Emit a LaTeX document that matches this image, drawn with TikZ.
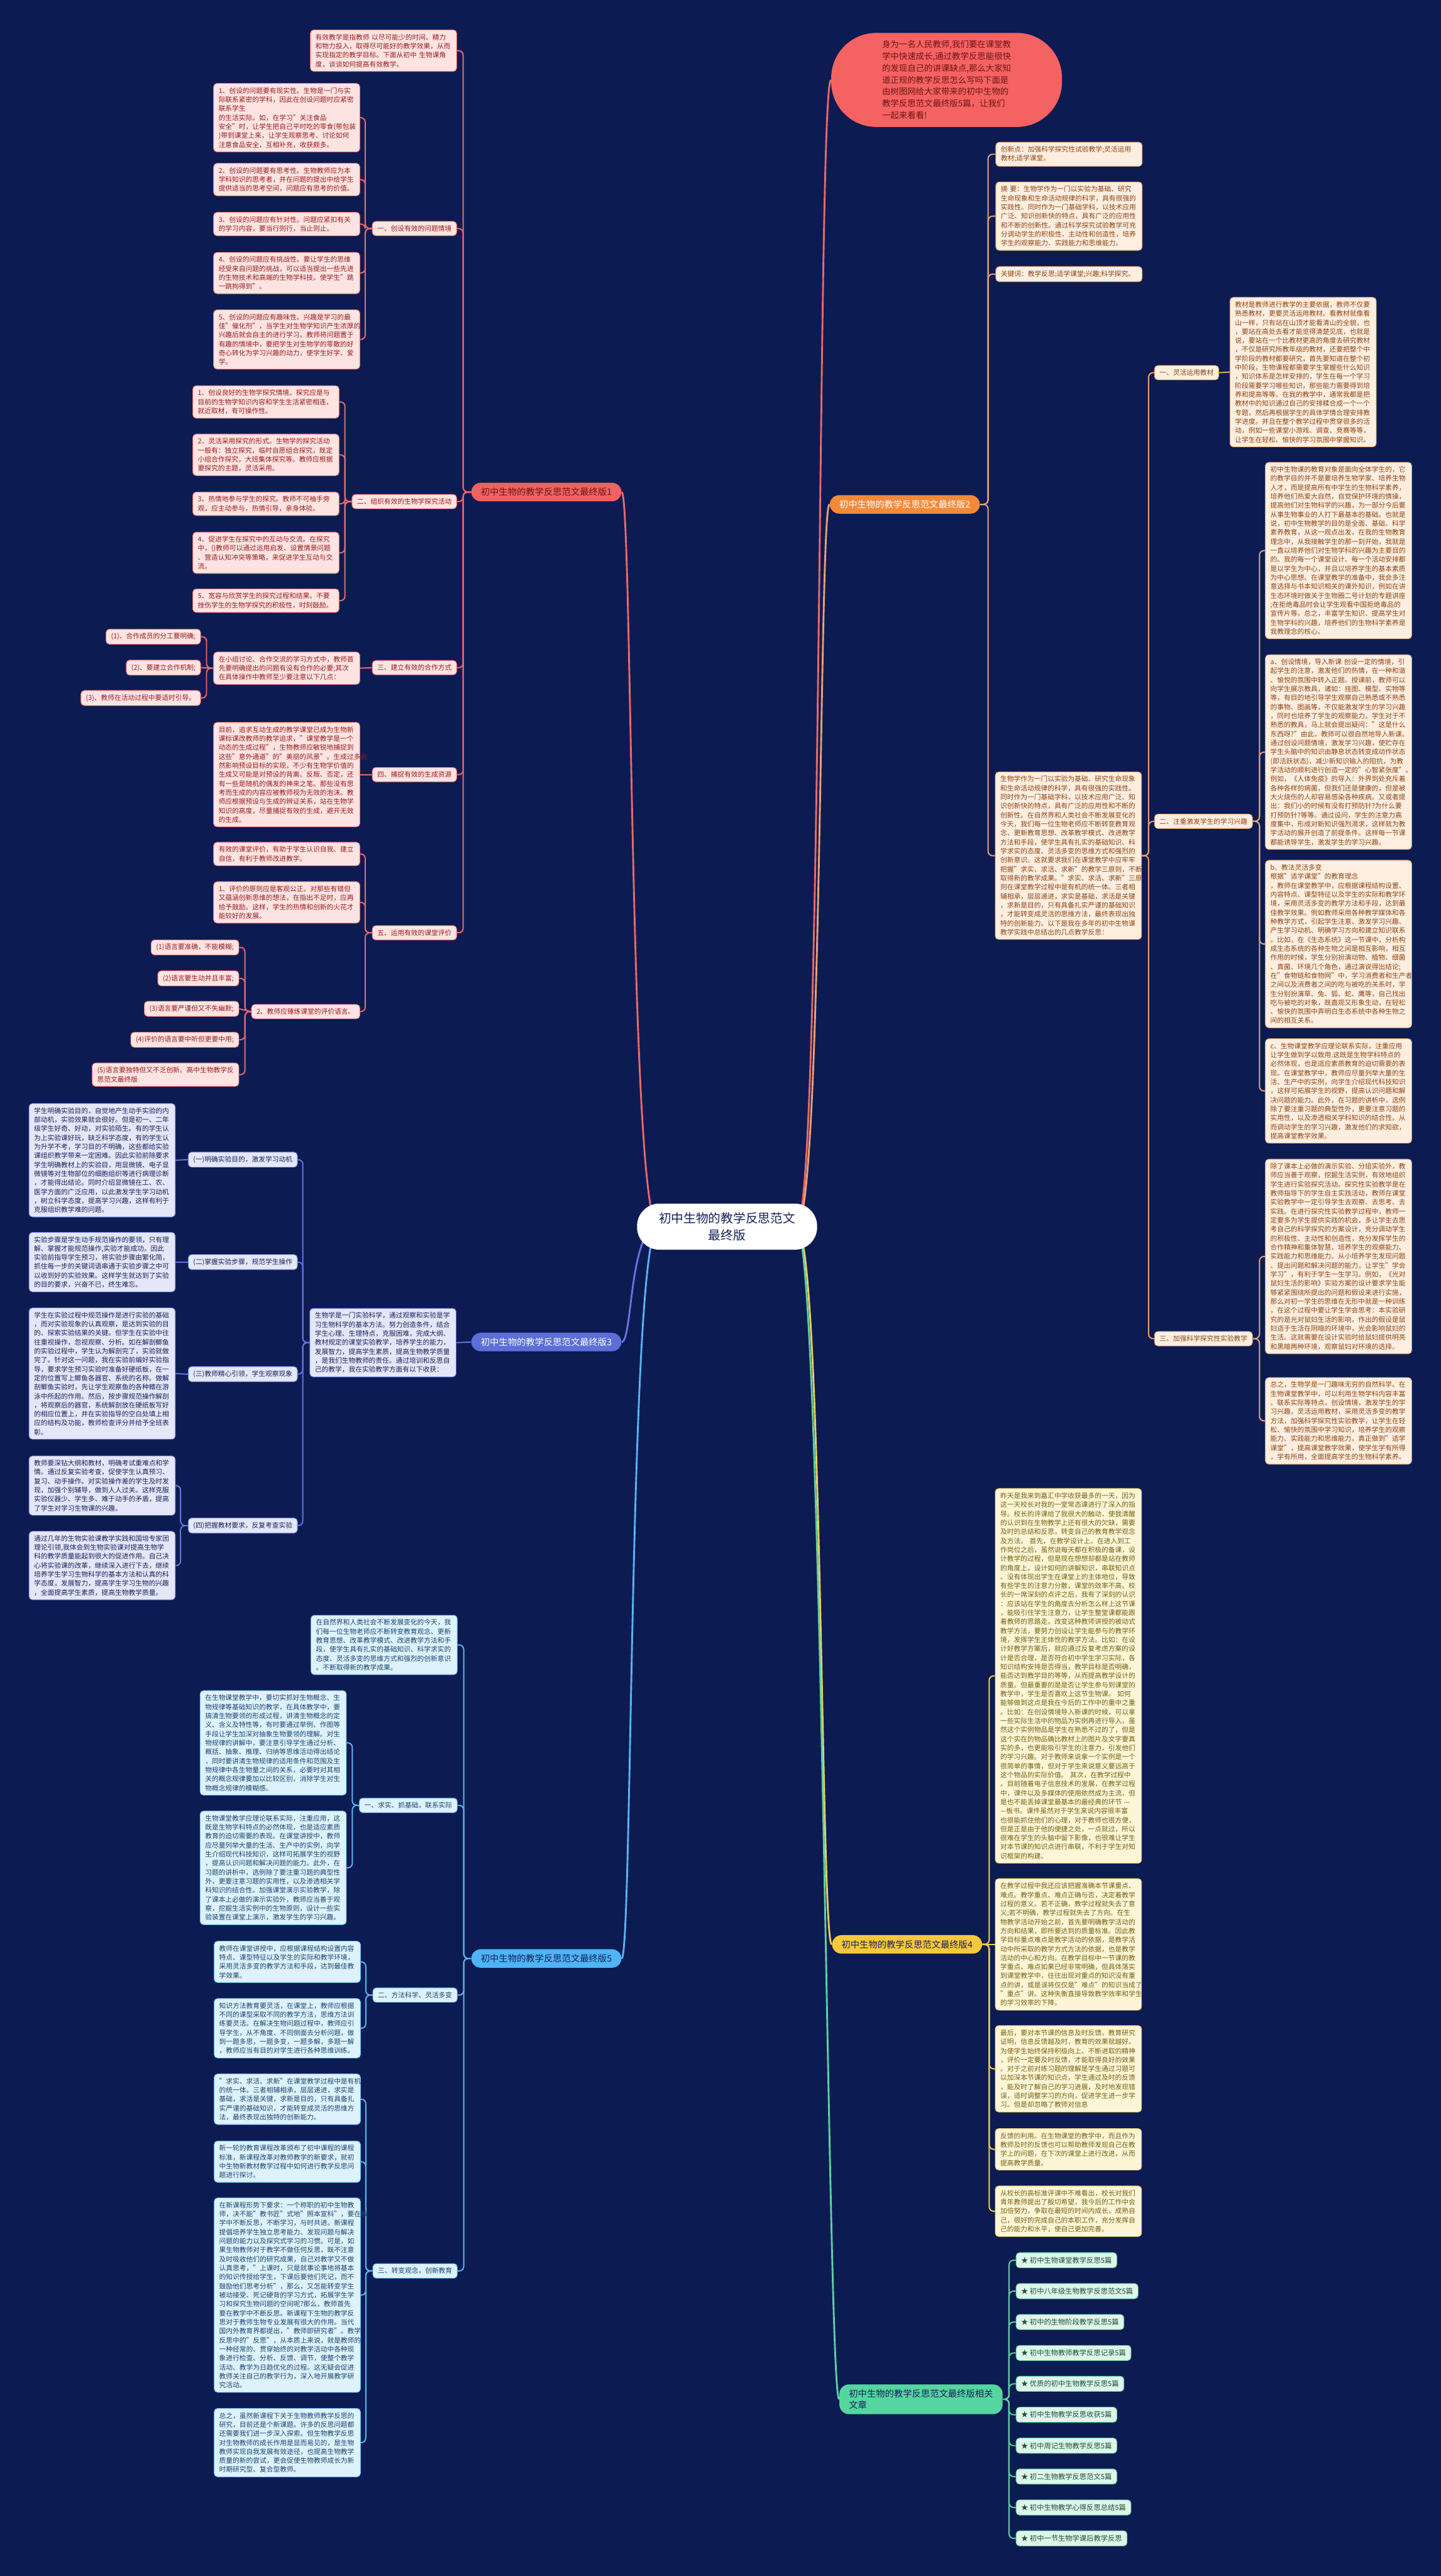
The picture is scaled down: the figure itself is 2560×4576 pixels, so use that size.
\documentclass[tikz,border=0pt]{standalone}
\usepackage{fontspec}
\setmainfont{Noto Sans CJK SC}
\pgfdeclarelayer{bg}
\pgfsetlayers{bg,main}
\definecolor{bgc}{RGB}{13,27,83}
\definecolor{f1}{RGB}{253,228,226}\definecolor{l1}{RGB}{236,104,104}\definecolor{t1}{RGB}{150,30,30}\definecolor{p1}{RGB}{240,98,98}
\definecolor{f2}{RGB}{253,238,224}\definecolor{l2}{RGB}{232,162,112}\definecolor{t2}{RGB}{140,70,20}\definecolor{p2}{RGB}{243,138,58}
\definecolor{f3}{RGB}{228,231,248}\definecolor{l3}{RGB}{100,118,220}\definecolor{t3}{RGB}{25,35,90}\definecolor{p3}{RGB}{92,110,216}
\definecolor{f4}{RGB}{252,246,214}\definecolor{l4}{RGB}{240,205,90}\definecolor{t4}{RGB}{120,95,20}\definecolor{p4}{RGB}{247,200,60}
\definecolor{f5}{RGB}{222,242,252}\definecolor{l5}{RGB}{90,180,240}\definecolor{t5}{RGB}{25,70,110}\definecolor{p5}{RGB}{79,180,245}
\definecolor{f6}{RGB}{222,245,234}\definecolor{l6}{RGB}{90,210,160}\definecolor{t6}{RGB}{25,80,55}\definecolor{p6}{RGB}{85,214,160}
\definecolor{bubf}{RGB}{245,98,98}\definecolor{bubt}{RGB}{110,20,20}
\definecolor{ctext}{RGB}{20,32,90}
\tikzset{
  every node/.style={font=\fontsize{6pt}{8pt}\selectfont},
  tb/.style={align=left, inner xsep=4.5pt, inner ysep=3.6pt, rounded corners=3pt, line width=0.5pt},
  blk/.style={tb, text width=121pt},
  k1/.style={fill=f1,draw=l1,text=t1},
  k2/.style={fill=f2,draw=l2,text=t2},
  k3/.style={fill=f3,draw=l3,text=t3},
  k4/.style={fill=f4,draw=l4,text=t4},
  k5/.style={fill=f5,draw=l5,text=t5},
  k6/.style={fill=f6,draw=l6,text=t6},
  pill/.style={font=\fontsize{8pt}{10pt}\selectfont, rounded corners=8.5pt, inner xsep=8.5pt, inner ysep=4.5pt, align=center},
  cn/.style={line width=1.1pt, rounded corners=4pt},
  mc/.style={line width=1.6pt},
}
\begin{document}
\begin{tikzpicture}[x=0.5pt,y=-0.5pt]
\useasboundingbox (0,0) rectangle (2560,4576);

% ---------- central node and bubble
\node[fill=white, rounded corners=20pt, minimum width=160pt, minimum height=41pt, align=center, text=ctext, font=\fontsize{11pt}{15pt}\selectfont] (C) at (1292,2179) {初中生物的教学反思范文\\最终版};
\node[fill=bubf, rounded corners=40pt, minimum width=205pt, minimum height=83.5pt, align=left, text=bubt, font=\fontsize{7.5pt}{10.5pt}\selectfont] (RB) at (1682,142) {身为一名人民教师,我们要在课堂教\\学中快速成长,通过教学反思能很快\\的发现自己的讲课缺点,那么大家知\\道正规的教学反思怎么写吗下面是\\由树图网给大家带来的初中生物的\\教学反思范文最终版5篇，让我们\\一起来看看!};

% ---------- pills
\node[pill, fill=p1, text=bubt, anchor=west] (P1) at (837,874) {初中生物的教学反思范文最终版1};
\node[pill, fill=p3, text=white, anchor=west] (P3) at (837,2384) {初中生物的教学反思范文最终版3};
\node[pill, fill=p5, text=ctext, anchor=west] (P5) at (837,3479) {初中生物的教学反思范文最终版5};
\node[pill, fill=p2, text=white, anchor=west] (P2) at (1474,896) {初中生物的教学反思范文最终版2};
\node[pill, fill=p4, text=ctext, anchor=west] (P4) at (1478,3454) {初中生物的教学反思范文最终版4};
\node[pill, fill=p6, text=ctext, anchor=east, align=left] (PR) at (1782,4262) {初中生物的教学反思范文最终版相关\\文章};

% ================= Branch 1
\node[blk,k1,anchor=east] (B1i) at (812,90) {有效教学是指教师 以尽可能少的时间、精力\\和物力投入，取得尽可能好的教学效果，从而\\实现指定的教学目标。下面从初中 生物课角\\度，谈谈如何提高有效教学。};
\node[tb,k1,anchor=east] (L11) at (812,406) {一、创设有效的问题情境};
\node[blk,k1,anchor=east] (T111) at (640,209) {1、创设的问题要有现实性。生物是一门与实\\际联系紧密的学科，因此在创设问题时应紧密\\联系学生 的生活实际。如，在学习"关注食品\\安全"时，让学生把自己平时吃的零食(带包装\\)带到课堂上来，让学生观察思考、讨论如何\\注意食品安全，互相补充，收获颇多。};
\node[blk,k1,anchor=east] (T112) at (640,319) {2、创设的问题要有思考性。生物教师应为本\\学科知识的思考者，并在问题的提出中给学生\\提供适当的思考空间，问题应有思考的价值。};
\node[blk,k1,anchor=east] (T113) at (640,398) {3、创设的问题应有针对性。问题应紧扣有关\\的学习内容，要当行则行，当止则止。};
\node[blk,k1,anchor=east] (T114) at (640,485) {4、创设的问题应有挑战性。要让学生的思维\\经受来自问题的挑战，可以适当提出一些先进\\的生物技术和高端的生物学科技。使学生"跳\\一跳拘得到"。};
\node[blk,k1,anchor=east] (T115) at (640,603) {5、创设的问题应有趣味性。兴趣是学习的最\\佳"催化剂"，当学生对生物学知识产生浓厚的\\兴趣后就会自主的进行学习。教师将问题置于\\有趣的情境中，要把学生对生物学的零散的好\\奇心转化为学习兴趣的动力，使学生好学、爱\\学。};
\node[tb,k1,anchor=east] (L12) at (812,891) {二、组织有效的生物学探究活动};
\node[blk,k1,anchor=east] (T121) at (603,714) {1、创设良好的生物学探究情境。探究应是与\\目前的生物学知识内容和学生生活紧密相连，\\就近取材，有可操作性。};
\node[blk,k1,anchor=east] (T122) at (603,808) {2、灵活采用探究的形式。生物学的探究活动\\一般有：独立探究，临时自愿组合探究，既定\\小组合作探究，大班集体探究等。教师应根据\\要探究的主题，灵活采用。};
\node[blk,k1,anchor=east] (T123) at (603,895) {3、热情地参与学生的探究。教师不可袖手旁\\观，应主动参与，热情引导，亲身体验。};
\node[blk,k1,anchor=east] (T124) at (603,982) {4、促进学生在探究中的互动与交流。在探究\\中，()教师可以通过运用启发、设置情景问题\\、营造认知冲突等策略，来促进学生互动与交\\流。};
\node[blk,k1,anchor=east] (T125) at (603,1067) {5、宽容与欣赏学生的探究过程和结果。不要\\挫伤学生的生物学探究的积极性，时刻鼓励。};
\node[tb,k1,anchor=east] (L13) at (812,1186) {三、建立有效的合作方式};
\node[blk,k1,anchor=east] (T131) at (640,1187) {在小组讨论、合作交流的学习方式中，教师首\\先要明确提出的问题有没有合作的必要;其次\\在具体操作中教师至少要注意以下几点：};
\node[tb,k1,anchor=east] (S1) at (357,1131) {(1)、合作成员的分工要明确;};
\node[tb,k1,anchor=east] (S2) at (357,1186) {(2)、要建立合作机制;};
\node[tb,k1,anchor=east] (S3) at (357,1240) {(3)、教师在活动过程中要适时引导。};
\node[tb,k1,anchor=east] (L14) at (812,1376) {四、捕捉有效的生成资源};
\node[blk,k1,anchor=east] (T141) at (640,1376) {目前，追求互动生成的教学课堂已成为生物新\\课标课改教师的教学追求，"课堂教学是一个\\动态的生成过程"，生物教师应敏锐地捕捉到\\这些"意外通道"的"美丽的风景"。生成过多必\\然影响预设目标的实现，不少有生物学价值的\\生成又可能是对预设的背离、反叛、否定，还\\有一些是随机的偶发的神来之笔。那些没有思\\考而生成的内容应被教师视为无效的泡沫。教\\师应根据预设与生成的辨证关系，站在生物学\\知识的高度，尽量捕捉有效的生成，避开无效\\的生成。};
\node[tb,k1,anchor=east] (L15) at (812,1657) {五、运用有效的课堂评价};
\node[blk,k1,anchor=east] (T151) at (640,1517) {有效的课堂评价，有助于学生认识自我、建立\\自信，有利于教师改进教学。};
\node[blk,k1,anchor=east] (T152) at (640,1603) {1、评价的原则应是客观公正。对那些有错但\\又蕴涵创新思维的想法，在指出不足时，应再\\给予鼓励。这样，学生的热情和创新的火花才\\能较好的发展。};
\node[tb,k1,anchor=east] (T153) at (640,1797) {2、教师应锤炼课堂的评价语言。};
\node[tb,k1,anchor=east] (Q1) at (425,1683) {(1)语言要准确，不能模糊;};
\node[tb,k1,anchor=east] (Q2) at (425,1738) {(2)语言要生动并且丰富;};
\node[tb,k1,anchor=east] (Q3) at (425,1792) {(3)语言要严谨但又不失幽默;};
\node[tb,k1,anchor=east] (Q4) at (425,1847) {(4)评价的语言要中听但更要中用;};
\node[tb,k1,anchor=east] (Q5) at (425,1909) {(5)语言要独特但又不乏创新。高中生物教学反\\思范文最终版};

% ================= Branch 3
\node[blk,k3,anchor=east] (B3i) at (811,2385) {生物学是一门实验科学，通过观察和实验是学\\习生物科学的基本方法。努力创造条件，结合\\学生心理、生理特点，克服困难，完成大纲、\\教材规定的课堂实验教学，培养学生的能力，\\发展智力，提高学生素质，提高生物教学质量\\，是我们生物教师的责任。通过培训和反思自\\己的教学，我在实验教学方面有以下收获：};
\node[tb,k3,anchor=east] (L31) at (529,2060) {(一)明确实验目的，激发学习动机};
\node[tb,k3,anchor=east] (L32) at (529,2242) {(二)掌握实验步骤，规范学生操作};
\node[tb,k3,anchor=east] (L33) at (529,2441) {(三)教师精心引领，学生观察现象};
\node[tb,k3,anchor=east] (L34) at (529,2710) {(四)把握教材要求，反复考查实验};
\node[blk,k3,anchor=east] (T31) at (312,2061) {学生明确实验目的，自觉地产生动手实验的内\\部动机，实验效果就会很好。但是初一、二年\\级学生好奇、好动，对实验陌生。有的学生认\\为上实验课好玩，缺乏科学态度，有的学生认\\为升学不考，学习目的不明确，这些都给实验\\课组织教学带来一定困难。因此实验前除要求\\学生明确教材上的实验目，用显微镜、电子显\\微镜等对生物部位的细胞组织等进行病理诊断\\，才能得出结论。同时介绍显微镜在工、农、\\医学方面的广泛应用，以此激发学生学习动机\\，树立科学态度，提高学习兴趣，这样有利于\\克服组织教学难的问题。};
\node[blk,k3,anchor=east] (T32) at (312,2242) {实验步骤是学生动手规范操作的要领，只有理\\解、掌握才能规范操作,实验才能成功。因此\\实验前指导学生预习，将实验步骤由繁化简，\\抓住每一步的关键词语串通于实验步骤之中可\\以收到好的实验效果。这样学生就达到了实验\\的目的要求，兴奋不已，终生难忘。};
\node[blk,k3,anchor=east] (T33) at (312,2440) {学生在实验过程中规范操作是进行实验的基础\\，而对实验现象的认真观察，是达到实验的目\\的、探索实验结果的关键。但学生在实验中往\\往重视操作，忽视观察、分析。如在解剖鲫鱼\\的实验过程中，学生认为解剖完了，实验就做\\完了。针对这一问题，我在实验前编好实验指\\导，要求学生预习实验时准备好硬纸板，在一\\定的位置写上鲫鱼各器官、系统的名称。做解\\剖鲫鱼实验时，先让学生观察鱼的各种鳍在游\\泳中所起的作用。然后，按步骤规范操作解剖\\，将观察后的器官，系统解剖放在硬纸板写好\\的相应位置上，并在实验指导的空白处填上相\\应的结构及功能，教师检查评分并给予全班表\\彰。};
\node[blk,k3,anchor=east] (T34a) at (312,2639) {教师要深钻大纲和教材，明确考试重难点和学\\情。通过反复实验考查，促使学生认真预习、\\复习、动手操作。对实验操作差的学生及时发\\现，加强个别辅导，做到人人过关。这样克服\\实验仪器少、学生多、难于动手的矛盾，提高\\了学生对学习生物课的兴趣。};
\node[blk,k3,anchor=east] (T34b) at (312,2781) {通过几年的生物实验课教学实践和国培专家团\\理论引领,我体会到生物实验课对提高生物学\\科的教学质量能起到很大的促进作用。自己决\\心将实验课的改革，继续深入进行下去，继续\\培养学生学习生物科学的基本方法和认真的科\\学态度，发展智力，提高学生学习生物的兴趣\\，全面提高学生素质，提高生物教学质量。};

% ================= Branch 5
\node[blk,k5,anchor=east] (B5i) at (813,2922) {在自然界和人类社会不断发展变化的今天，我\\们每一位生物老师应不断转变教育观念、更新\\教育思想、改革教学模式、改进教学方法和手\\段，使学生具有扎实的基础知识、科学求实的\\态度、灵活多变的思维方式和强烈的创新意识\\。不断取得新的教学成果。};
\node[tb,k5,anchor=east] (L51) at (813,3207) {一、求实、抓基础，联系实际};
\node[blk,k5,anchor=east] (T511) at (616,3096) {在生物课堂教学中，要切实抓好生物概念、生\\物规律等基础知识的教学，在具体教学中，要\\搞清生物要领的形成过程，讲清生物概念的定\\义、含义及特性等，有时要通过举例、作图等\\手段让学生加深对抽象生物要领的理解。对生\\物规律的讲解中，要注意引导学生通过分析、\\概括、抽象、推理、归纳等思维活动得出结论\\，同时要讲清生物规律的适用条件和范围及生\\物规律中各生物量之间的关系，必要时对其相\\关的概念规律要加以比较区别，消除学生对生\\物概念规律的模糊感。};
\node[blk,k5,anchor=east] (T512) at (616,3318) {生物课堂教学应理论联系实际，注重应用，这\\既是生物学科特点的必然体现，也是适应素质\\教育的迫切需要的表现。在课堂讲授中，教师\\应尽量列举大量的生活、生产中的实例，向学\\生介绍现代科技知识，这样可拓展学生的视野\\，提高认识问题和解决问题的能力。此外，在\\习题的讲析中，选例除了要注重习题的典型性\\外，更要注意习题的实用性，以及渗透相关学\\科知识的结合性。加强课堂演示实验教学，除\\了课本上必做的演示实验外，教师应当善于观\\察，挖掘生活实例中的生物原则，设计一些实\\验装置在课堂上演示，激发学生的学习兴趣。};
\node[tb,k5,anchor=east] (L52) at (813,3544) {二、方法科学、灵活多变};
\node[blk,k5,anchor=east] (T521) at (641,3485) {教师在课堂讲授中，应根据课程结构设置内容\\特点、课型特征以及学生的实际和教学环境，\\采用灵活多变的教学方法和手段，达到最佳教\\学效果。};
\node[blk,k5,anchor=east] (T522) at (641,3603) {知识方法教育要灵活，在课堂上，教师应根据\\不同的课型采取不同的教学方法，思维方法训\\练要灵活。在解决生物问题过程中，教师应引\\导学生，从不角度、不同侧面去分析问题，做\\到一题多思，一题多变，一题多解，多题一解\\，教师应当有目的对学生进行各种思维训练。};
\node[tb,k5,anchor=east] (L53) at (813,4034) {三、转变观念，创新教育};
\node[blk,k5,anchor=east] (T531) at (641,3729) {"求实、求活、求新"在课堂教学过程中是有机\\的统一体。三者相辅相承，层层递进，求实是\\基础，求活是关键，求新是目的，只有具备扎\\实严谨的基础知识，才能转变成灵活的思维方\\法，最终表现出独特的创新能力。};
\node[blk,k5,anchor=east] (T532) at (641,3840) {新一轮的教育课程改革颁布了初中课程的课程\\标准，新课程改革对教师教学的新要求，就初\\中生物新教材教学过程中如何进行教学反思问\\题进行探讨。};
\node[blk,k5,anchor=east] (T533) at (641,4077) {在新课程形势下要求：一个称职的初中生物教\\师，决不能"教书匠"式地"照本宣科"，要在教\\学中不断反思，不断学习，与时共进。新课程\\提倡培养学生独立思考能力、发现问题与解决\\问题的能力以及探究式学习的习惯。可是，如\\果生物教师对于教学不做任何反思，既不注意\\及时吸收他们的研究成果，自己对教学又不做\\认真思考，"上课时，只是就事论事地将基本\\的知识传授给学生，下课后要他们死记，而不\\鼓励他们思考分析"，那么，又怎能转变学生\\被动接受、死记硬背的学习方式，拓展学生学\\习和探究生物问题的空间呢?那么，教师首先\\要在教学中不断反思。新课程下生物的教学反\\思对于教师生物专业发展有很大的作用。当代\\国内外教育界都提出，"教师即研究者"。教学\\反思中的"反思"，从本质上来说，就是教师的\\一种经常的、贯穿始终的对教学活动中各种现\\象进行检查、分析、反馈、调节，使整个教学\\活动、教学为日趋优化的过程。这无疑会促进\\教师关注自己的教学行为，深入地开展教学研\\究活动。};
\node[blk,k5,anchor=east] (T534) at (641,4339) {总之，虽然新课程下关于生物教师教学反思的\\研究，目前还是个新课题。许多的反思问题都\\还需要我们进一步深入探索。但生物教学反思\\对生物教师的成长作用是显而易见的，是生物\\教师实现自我发展有效途径，也提高生物教学\\质量的新的尝试，更会促使生物教师成长为新\\时期研究型、复合型教师。};

% ================= Branch 2
\node[blk,k2,anchor=west] (T2a) at (1769,274) {创新点：加强科学探究性试验教学;灵活运用\\教材;适学课堂。};
\node[blk,k2,anchor=west] (T2b) at (1769,384) {摘 要：生物学作为一门以实验为基础、研究\\生命现象和生命活动规律的科学，具有很强的\\实践性。同时作为一门基础学科，以技术应用\\广泛、知识创新快的特点，具有广泛的应用性\\和不断的创新性。通过科学探究试验教学可充\\分调动学生的积极性、主动性和创造性，培养\\学生的观察能力、实践能力和思维能力。};
\node[blk,k2,anchor=west] (T2c) at (1769,487) {关键词：教学反思;适学课堂;兴趣;科学探究。};
\node[blk,k2,anchor=west] (T2d) at (1768,1520) {生物学作为一门以实验为基础、研究生命现象\\和生命活动规律的科学，具有很强的实践性。\\同时作为一门基础学科，以技术应用广泛、知\\识创新快的特点，具有广泛的应用性和不断的\\创新性。在自然界和人类社会不断发展变化的\\今天，我们每一位生物老师应不断转变教育观\\念、更新教育思想、改革教学模式、改进教学\\方法和手段，使学生具有扎实的基础知识、科\\学求实的态度、灵活多变的思维方式和强烈的\\创新意识。这就要求我们在课堂教学中应牢牢\\把握"求实、求活、求新"的教学三原则，不断\\取得新的教学成果。"求实、求活、求新"三原\\则在课堂教学过程中是有机的统一体。三者相\\辅相承，层层递进，求实是基础，求活是关键\\，求新是目的，只有具备扎实严谨的基础知识\\，才能转变成灵活的思维方法，最终表现出独\\特的创新能力。以下是我在多年的初中生物课\\教学实践中总结出的几点教学反思：};
\node[tb,k2,anchor=west] (L21) at (2051,662) {一、灵活运用教材};
\node[blk,k2,anchor=west] (T211) at (2185,661) {教材是教师进行教学的主要依据，教师不仅要\\熟悉教材，更要灵活运用教材。看教材就像看\\山一样，只有站在山顶才能看清山的全貌，也\\，要站在高处去看才能览得清楚见底，也就是\\说，要站在一个比教材更高的角度去研究教材\\，不仅是研究所教年级的教材，还要把整个中\\学阶段的教材都要研究，首先要知道在整个初\\中阶段，生物课程都需要学生掌握些什么知识\\，知识体系是怎样安排的，学生在每一个学习\\阶段需要学习哪些知识，那些能力需要得到培\\养和提高等等。在我的教学中，通常我都是把\\教材中的知识通过自己的安排糅合成一个一个\\专题，然后再根据学生的具体学情合理安排教\\学进度。并且在整个教学过程中贯穿很多的活\\动，例如一些课堂小游戏、调查、竞赛等等，\\让学生在轻松、愉快的学习氛围中掌握知识。};
\node[tb,k2,anchor=west] (L22) at (2051,1459) {二、注重激发学生的学习兴趣};
\node[blk,k2,anchor=west] (T221) at (2248,978) {初中生物课的教育对象是面向全体学生的，它\\的教学目的并不是要培养生物学家、培养生物\\人才，而是提高所有中学生的生物科学素养，\\培养他们热爱大自然，自觉保护环境的情操，\\提高他们对生物科学的兴趣，为一部分今后要\\从事生物事业的人打下最基本的基础。也就是\\说，初中生物教学的目的是全面、基础、科学\\素养教育，从这一观点出发，在我的生物教育\\理念中，从我接触学生的那一刻开始，我就是\\一直以培养他们对生物学科的兴趣为主要目的\\的。我的每一个课堂设计、每一个活动安排都\\是以学生为中心，并且以培养学生的基本素质\\为中心思想。在课堂教学的准备中，我会多注\\意选择与书本知识相关的课外知识，例如在讲\\生态环境时做关于生物圈二号计划的专题讲座\\;在拒绝毒品时会让学生观看中国拒绝毒品的\\宣传片等。总之，丰富学生知识、提高学生对\\生物学科的兴趣，培养他们的生物科学素养是\\我教理念的核心。};
\node[blk,k2,anchor=west] (T222) at (2248,1336) {a、创设情境，导入新课 创设一定的情境，引\\起学生的注意，激发他们的热情，在一种和谐\\、愉悦的氛围中转入正题。授课前，教师可以\\向学生展示教具，诸如：挂图、模型、实物等\\等，有目的地引导学生观察自己熟悉或不熟悉\\的事物、图画等，不仅能激发学生的学习兴趣\\，同时也培养了学生的观察能力。学生对于不\\熟悉的教具，马上就会提出疑问："这是什么\\东西呀?"由此，教师可以很自然地导入新课。\\通过创设问题情境，激发学习兴趣，使贮存在\\学生头脑中的知识由静息状态转变成动作状态\\(即活跃状态)，减少新知识输入的阻抗，为教\\学活动的顺利进行创造一定的"心智紧张度"。\\例如，《人体免疫》的导入：外界到处充斥着\\各种各样的病菌，但我们还是健康的，但是被\\大火烧伤的人却容易感染各种疾病。又或者提\\出：我们小的时候有没有打预防针?为什么要\\打预防针?等等。通过设问，学生的注意力高\\度集中，形成对新知识强烈渴求，这样就为教\\学活动的展开创造了前提条件。这样每一节课\\都能诱导学生，激发学生的学习兴趣。};
\node[blk,k2,anchor=west] (T223) at (2248,1677) {b、教法灵活多变 根据"适学课堂"的教育理念\\，教师在课堂教学中，应根据课程结构设置、\\内容特点、课型特征以及学生的实际和教学环\\境，采用灵活多变的教学方法和手段，达到最\\佳教学效果。例如教师采用各种教学媒体和各\\种教学方式，引起学生注意、激发学习兴趣、\\产生学习动机、明确学习方向和建立知识联系\\。比如，在《生态系统》这一节课中，分析构\\成生态系统的各种生物之间是相互影响，相互\\作用的时候，学生分别扮演动物、植物、细菌\\、真菌、环境几个角色，通过演说得出结论;\\在"食物链和食物网"中，学习消费者和生产者\\之间以及消费者之间的吃与被吃的关系时，学\\生分别扮演草、兔、狐、蛇、鹰等，自己找出\\吃与被吃的对象，既直观又形象生动，在轻松\\、愉快的氛围中弄明白生态系统中各种生物之\\间的相互关系。};
\node[blk,k2,anchor=west] (T224) at (2248,1938) {c、生物课堂教学应理论联系实际，注重应用\\让学生做到学以致用.这既是生物学科特点的\\必然体现，也是适应素质教育的迫切需要的表\\现。在课堂教学中，教师应尽量列举大量的生\\活、生产中的实例，向学生介绍现代科技知识\\，这样可拓展学生的视野，提高认识问题和解\\决问题的能力。此外，在习题的讲析中，选例\\除了要注重习题的典型性外，更要注意习题的\\实用性，以及渗透相关学科知识的结合性。从\\而调动学生的学习兴趣，激发他们的求知欲，\\提高课堂教学效果。};
\node[tb,k2,anchor=west] (L23) at (2051,2378) {三、加强科学探究性实验教学};
\node[blk,k2,anchor=west] (T231) at (2248,2232) {除了课本上必做的演示实验、分组实验外，教\\师应当善于观察，挖掘生活实例，有效地组织\\学生进行实验探究活动。探究性实验教学是在\\教师指导下的学生自主实践活动，教师在课堂\\实验教学中一定引导学生去观察、去思考、去\\实践。在进行探究性实验教学过程中，教师一\\定要多为学生提供实践的机会，多让学生去思\\考自己的科学探究的方案设计，充分调动学生\\的积极性、主动性和创造性，充分发挥学生的\\合作精神和集体智慧，培养学生的观察能力、\\实践能力和思维能力。从小培养学生发现问题\\、提出问题和解决问题的能力，让学生"学会\\学习"，有利于学生一生学习。例如，《光对\\鼠妇生活的影响》实验方案的设计要求学生能\\够紧紧围绕所提出的问题和假设来进行实施，\\那么对初一学生的思维在无形中就是一种训练\\，在这个过程中要让学生学会思考：本实验研\\究的是光对鼠妇生活的影响，作出的假设是鼠\\妇适于生活在阴暗的环境中，光会影响鼠妇的\\生活。这就需要在设计实验时给鼠妇提供明亮\\和黑暗两种环境，观察鼠妇对环境的选择。};
\node[blk,k2,anchor=west] (T232) at (2248,2524) {总之，生物学是一门趣味无穷的自然科学。在\\生物课堂教学中，可以利用生物学科内容丰富\\、联系实际等特点，创设情境，激发学生的学\\习兴趣，灵活运用教材，采用灵活多变的教学\\方法，加强科学探究性实验教学，让学生在轻\\松、愉快的氛围中学习知识，培养学生的观察\\能力、实践能力和思维能力，真正做到"适学\\课堂"，提高课堂教学效果，使学生学有所得\\，学有所用，全面提高学生的生物科学素养。\\};

% ================= Branch 4
\node[blk,k4,anchor=west] (T41) at (1768,2977) {昨天是我来到嘉汇中学收获最多的一天，因为\\这一天校长对我的一堂常态课进行了深入的指\\导。校长的评课给了我很大的触动，使我清醒\\的认识到在生物教学上还有很大的欠缺，需要\\及时的总结和反思，转变自己的教育教学观念\\及方法。 首先，在教学设计上。在进入到工\\作岗位之后，虽然说每天都在积极的备课，设\\计教学的过程，但是现在想想却都是站在教师\\的角度上，设计如何的讲解知识，串联知识点\\。没有体现出学生在课堂上的主体地位，导致\\有些学生的注意力分散，课堂的效率不高。校\\长的一席深刻的点评之后，我有了深刻的认识\\：应该站在学生的角度去分析怎么样上这节课\\，能吸引住学生注意力，让学生整堂课都能跟\\着教师的思路走。改变这种教师讲授的被动式\\教学方法，要努力创设让学生能参与的教学环\\境，发挥学生主体性的教学方法。比如：在设\\计好教学方案后，就应通过反复考虑方案的设\\计是否合理，是否符合初中学生学习实际，各\\知识结构安排是否得当，教学目标是否明确，\\能否达到教学目的等等，从而提高教学设计的\\质量。但最重要的是是否让学生参与到课堂的\\教学中，学生是否喜欢上这节生物课。 如何\\能够做到这点是我在今后的工作中的重中之重\\。比如：在创设情境导入新课的时候，可以拿\\一些实际生活中的物品为实例再进行导入，虽\\然这个实例物品是学生在熟悉不过的了，但是\\这个实在的物品确比教材上的图片及文字要真\\实的多，也更能吸引学生的注意力，引发他们\\的学习兴趣。对于教师来说拿一个实例是一个\\很简单的事情，但对于学生来说意义要远高于\\这个物品的实际价值。 其次，在教学过程中\\。目前随着电子信息技术的发展，在教学过程\\中，课件以及多媒体的使用依然成为主流，但\\是也不能丢掉课堂最基本的最经典的环节 —\\—板书。课件虽然对于学生来说内容很丰富\\也很能抓住他们的心理，对于教师也很方便，\\但是正是由于他的便捷之处，一点就过，所以\\很难在学生的头脑中留下影像，也很难让学生\\对本节课的知识点进行串联，不利于学生对知\\识框架的构建。};
\node[blk,k4,anchor=west] (T42) at (1768,3454) {在教学过程中我还应该把握准确本节课重点、\\难点。教学重点、难点正确与否，决定着教学\\过程的意义。若不正确，教学过程就失去了意\\义;若不明确，教学过程就失去了方向。在生\\物教学活动开始之前，首先要明确教学活动的\\方向和结果，即所要达到的质量标准。因此教\\学目标重点难点是教学活动的依据，是教学活\\动中所采取的教学方式方法的依据，也是教学\\活动的中心和方向。在教学目标中一节课的教\\学重点、难点如果已经非常明确，但具体落实\\到课堂教学中，往往出现对重点的知识没有重\\点的讲，或是误将仅仅是"难点"的知识当成了\\"重点"讲。这种失衡直接导致教学效率和学生\\的学习效率的下降。};
\node[blk,k4,anchor=west] (T43) at (1768,3675) {最后，要对本节课的信息及时反馈。教育研究\\证明，信息反馈越及时，教育的效果就越好。\\为使学生始终保持积极向上、不断进取的精神\\，评价一定要及时反馈，才能取得良好的效果\\。对于之前对练习题的理解是学生通过习题可\\以加深本节课的知识点，学生通过及时的反馈\\，能及时了解自己的学习进展，及时地发现错\\误，适时调整学习的方向，促进学生进一步学\\习。但是却忽略了教师对信息};
\node[blk,k4,anchor=west] (T44) at (1768,3818) {反馈的利用。在生物课堂的教学中，而且作为\\教师及时的反馈也可以帮助教师发现自己在教\\学上的问题，在下次的课堂上进行改进，从而\\提高教学质量。};
\node[blk,k4,anchor=west] (T45) at (1768,3928) {从校长的高标准评课中不难看出，校长对我们\\青年教师提出了殷切希望，我今后的工作中会\\加倍努力，争取在最短的时间内成长，成熟自\\己，很好的完成自己的本职工作，充分发挥自\\己的能力和水平，使自己更加完善。};

% ================= Related
\foreach \i/\t in {0/初中生物课堂教学反思5篇,1/初中八年级生物教学反思范文5篇,2/初中的生物阶段教学反思5篇,3/初中生物教师教学反思记录5篇,4/优质的初中生物教学反思5篇,5/初中生物教学反思收获5篇,6/初中周记生物教学反思5篇,7/初二生物教学反思范文5篇,8/初中生物教学心得反思总结5篇,9/初中一节生物学课后教学反思}
  \node[tb,k6,anchor=west,font=\fontsize{6.3pt}{8pt}\selectfont,inner ysep=3.8pt] (R\i) at (1805,4015+\i*54.9) {★ \t};

% ================= connectors
\begin{pgfonlayer}{bg}
\fill[bgc] (0,0) rectangle (2560,4576);
% central
\draw[mc,draw=l1] (1170,2179) .. controls (1118,2179) and (1124,874) .. (P1.east);
\draw[mc,draw=l3] (1170,2179) .. controls (1118,2179) and (1124,2384) .. (P3.east);
\draw[mc,draw=l5] (1170,2179) .. controls (1118,2179) and (1124,3479) .. (P5.east);
\draw[mc,draw=l1] (1415,2179) .. controls (1462,2179) and (1452,150) .. (RB.west);
\draw[mc,draw=l2] (1415,2179) .. controls (1462,2179) and (1455,896) .. (P2.west);
\draw[mc,draw=l4] (1415,2179) .. controls (1462,2179) and (1458,3454) .. (P4.west);
\draw[mc,draw=l6] (1415,2179) .. controls (1462,2179) and (1470,4262) .. (PR.west);
% branch 1
\foreach \n in {B1i,L11,L12,L13,L14,L15} \draw[cn,draw=l1] (P1.west) -- ++(-14,0) |- (\n.east);
\foreach \n in {T111,T112,T113,T114,T115} \draw[cn,draw=l1] (L11.west) -- ++(-12,0) |- (\n.east);
\foreach \n in {T121,T122,T123,T124,T125} \draw[cn,draw=l1] (L12.west) -- ++(-12,0) |- (\n.east);
\draw[cn,draw=l1] (L13.west) -- (T131.east);
\draw[cn,draw=l1] (T131.west) -- (S2.east);
\foreach \n in {S1,S3} \draw[cn,draw=l1] (T131.west) -- ++(-12,0) |- (\n.east);
\draw[cn,draw=l1] (L14.west) -- (T141.east);
\foreach \n in {T151,T152,T153} \draw[cn,draw=l1] (L15.west) -- ++(-12,0) |- (\n.east);
\foreach \n in {Q1,Q2,Q4,Q5} \draw[cn,draw=l1] (T153.west) -- ++(-11,0) |- (\n.east);
\draw[cn,draw=l1] (T153.west) -- (Q3.east);
% branch 3
\draw[cn,draw=l3] (P3.west) -- (B3i.east);
\foreach \n in {L31,L32,L33,L34} \draw[cn,draw=l3] (B3i.west) -- ++(-12,0) |- (\n.east);
\draw[cn,draw=l3] (L31.west) -- (T31.east);
\draw[cn,draw=l3] (L32.west) -- (T32.east);
\draw[cn,draw=l3] (L33.west) -- (T33.east);
\foreach \n in {T34a,T34b} \draw[cn,draw=l3] (L34.west) -- ++(-13,0) |- (\n.east);
% branch 5
\foreach \n in {B5i,L51,L52,L53} \draw[cn,draw=l5] (P5.west) -- ++(-13,0) |- (\n.east);
\foreach \n in {T511,T512} \draw[cn,draw=l5] (L51.west) -- ++(-12,0) |- (\n.east);
\foreach \n in {T521,T522} \draw[cn,draw=l5] (L52.west) -- ++(-12,0) |- (\n.east);
\foreach \n in {T531,T532,T533,T534} \draw[cn,draw=l5] (L53.west) -- ++(-12,0) |- (\n.east);
% branch 2
\foreach \n in {T2a,T2b,T2c,T2d} \draw[cn,draw=l2] (P2.east) -- ++(14,0) |- (\n.west);
\foreach \n in {L21,L22,L23} \draw[cn,draw=l2] (T2d.east) -- ++(12,0) |- (\n.west);
\draw[cn,draw=l2] (L21.east) -- (T211.west);
\foreach \n in {T221,T222,T223,T224} \draw[cn,draw=l2] (L22.east) -- ++(12,0) |- (\n.west);
\foreach \n in {T231,T232} \draw[cn,draw=l2] (L23.east) -- ++(12,0) |- (\n.west);
% branch 4
\draw[cn,draw=l4] (P4.east) -- (T42.west);
\foreach \n in {T41,T43,T44,T45} \draw[cn,draw=l4] (P4.east) -- ++(12,0) |- (\n.west);
% related
\foreach \i in {0,...,9} \draw[cn,draw=l6] (PR.east) -- ++(11,0) |- (R\i.west);
\end{pgfonlayer}
\end{tikzpicture}
\end{document}
